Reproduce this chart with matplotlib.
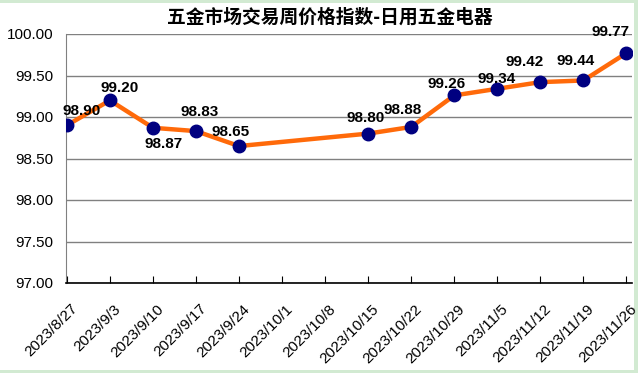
import matplotlib
matplotlib.use("Agg")
import matplotlib.pyplot as plt
import matplotlib.transforms as mtransforms
from matplotlib.patches import Rectangle
import numpy as np

# data
dates = ["2023/8/27", "2023/9/3", "2023/9/10", "2023/9/17", "2023/9/24",
         "2023/10/1", "2023/10/8", "2023/10/15", "2023/10/22", "2023/10/29",
         "2023/11/5", "2023/11/12", "2023/11/19", "2023/11/26"]
index_values = [98.90, 99.20, 98.87, 98.83, 98.65, None, None,
                98.80, 98.88, 99.26, 99.34, 99.42, 99.44, 99.77]
y_ticks = [97.0, 97.5, 98.0, 98.5, 99.0, 99.5, 100.0]
title = "五金市场交易周价格指数-日用五金电器"

# label offsets in pixels (dx, dy)
label_offsets = [(15, 14), (10, 12), (11, -16), (4, 19), (-8, 14), None, None,
                 (-3, 16), (-9, 17), (-8, 11), (-1, 10), (-16, 20), (-8, 19), (-16, 21)]

W, H = 638, 373
fig = plt.figure(figsize=(W / 100, H / 100), dpi=100, facecolor="#d2ead2")
# white chart area on top of the green sheet background
fig.patches.append(Rectangle((0, 3 / H), 634 / W, 367 / H, transform=fig.transFigure,
                             facecolor="white", edgecolor="none", zorder=-10))

ax = fig.add_axes([66 / W, (H - 283) / H, (632 - 66) / W, (283 - 34) / H])
ax.set_facecolor("none")
ax.set_zorder(1)

xs = [i for i, v in enumerate(index_values) if v is not None]
ys = [v for v in index_values if v is not None]

ax.plot(xs, ys, color="#ff6a0a", lw=3.2, zorder=3, solid_capstyle="round")
ax.plot(xs, ys, ls="none", marker="o", ms=9, color="#000080", zorder=4)

for x, y in zip(xs, ys):
    dx, dy = label_offsets[x]
    ax.annotate(f"{y:.2f}", (x, y), xytext=(dx, dy), textcoords="offset pixels",
                ha="center", va="center", fontsize=11, fontweight="bold",
                family="Liberation Sans", color="black", zorder=5)

ax.set_ylim(97.0, 100.0)
ax.set_xlim(-0.02, 13.13)
ax.set_yticks(y_ticks)
ax.set_yticklabels([f"{t:.2f}" for t in y_ticks], family="Liberation Sans", fontsize=11)
ax.tick_params(axis="y", length=0, pad=9)
ax.grid(axis="y", color="#808080", lw=1)
ax.set_axisbelow(True)

ax.set_xticks(range(len(dates)))
ax.set_xticklabels(dates, rotation=45, ha="right", rotation_mode="anchor",
                   family="Liberation Sans", fontsize=11)
ax.tick_params(axis="x", direction="in", length=5, color="black", pad=12)
shift = mtransforms.ScaledTranslation(0.035, -0.02, fig.dpi_scale_trans)
for lbl in ax.get_xticklabels():
    lbl.set_transform(lbl.get_transform() + shift)

for s in ["top", "right"]:
    ax.spines[s].set_visible(False)
ax.spines["left"].set_color("#808080")
ax.spines["bottom"].set_color("black")
ax.spines["bottom"].set_linewidth(1.2)

fig.text(330 / W, 1 - 17 / H, title, ha="center", va="center", fontsize=13.5,
         fontweight="bold", family=["Noto Sans CJK SC", "DejaVu Sans"])

fig.savefig("out.png", dpi=100, facecolor=fig.get_facecolor())
